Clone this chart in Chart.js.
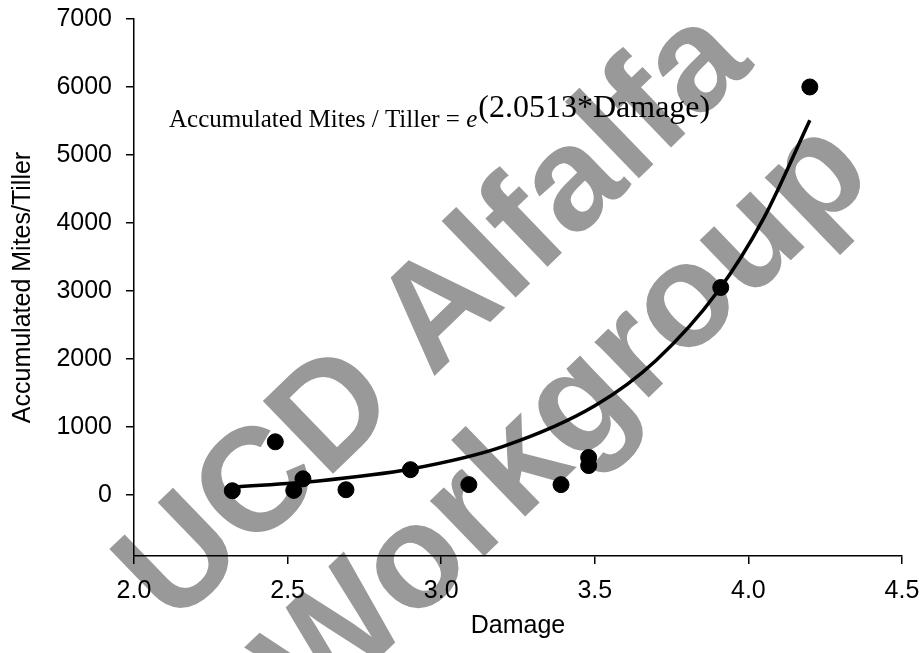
<!DOCTYPE html>
<html>
<head>
<meta charset="utf-8">
<title>Accumulated Mites / Tiller vs Damage</title>
<script src="https://cdn.jsdelivr.net/npm/chart.js@4.4.1/dist/chart.umd.min.js"></script>
<style>
  html, body { margin: 0; padding: 0; background: #fff; }
  #wrap { width: 921px; height: 653px; }
</style>
</head>
<body>
<div id="wrap"><canvas id="chart"></canvas></div>
<script>
// observed points
const damage = [2.32, 2.46, 2.52, 2.55, 2.69, 2.90, 3.09, 3.39, 3.48, 3.48, 3.91, 4.20];
const mites  = [60, 780, 65, 235, 75, 370, 150, 150, 550, 430, 3050, 6000];

// exponential trend line
const trendDamage = [2.32, 2.6, 2.9, 3.2, 3.5, 3.7, 3.9, 4.05, 4.2];
const trendMites  = [115, 205, 380, 710, 1310, 1980, 2990, 4070, 5510];

const xTicks = [2.0, 2.5, 3.0, 3.5, 4.0, 4.5];
const yTicks = [0, 1000, 2000, 3000, 4000, 5000, 6000, 7000];

const xTitle = 'Damage';
const yTitle = 'Accumulated Mites/Tiller';
const eqLabel = 'Accumulated Mites / Tiller = ';
const eqBase = 'e';
const eqPower = '(2.0513*Damage)';
const watermark = ['UCD Alfalfa', 'Workgroup'];

const sans = '"Liberation Sans", Arial, sans-serif';
const serif = '"Liberation Serif", "Times New Roman", serif';

// big grey text behind everything
const watermarkPlugin = {
  id: 'watermark',
  beforeDraw(chart) {
    const ctx = chart.ctx;
    ctx.save();
    ctx.fillStyle = '#999999';
    ctx.font = 'bold 147px ' + sans;
    ctx.textAlign = 'center';
    ctx.textBaseline = 'middle';
    const spots = [[436, 318], [567, 420]];
    spots.forEach(([x, y], i) => {
      ctx.save();
      ctx.translate(x, y);
      ctx.rotate(-44 * Math.PI / 180);
      ctx.fillText(watermark[i], 0, 0);
      ctx.restore();
    });
    ctx.restore();
  }
};

// trend equation, anchored in data space
const equationPlugin = {
  id: 'equation',
  afterDraw(chart) {
    const ctx = chart.ctx;
    const sx = chart.scales.x, sy = chart.scales.y;
    let x = sx.getPixelForValue(2.114);
    const y = sy.getPixelForValue(5410);
    ctx.save();
    ctx.fillStyle = '#000';
    ctx.textAlign = 'left';
    ctx.textBaseline = 'alphabetic';
    ctx.font = '25px ' + serif;
    ctx.fillText(eqLabel, x, y);
    x += ctx.measureText(eqLabel).width;
    ctx.font = 'italic 25px ' + serif;
    ctx.fillText(eqBase, x, y);
    x += ctx.measureText(eqBase).width + 1;
    ctx.font = '32px ' + serif;
    ctx.fillText(eqPower, x, y - 10);
    ctx.restore();
  }
};

const axisFont = { family: sans, size: 25 };

new Chart(document.getElementById('chart'), {
  type: 'scatter',
  data: {
    datasets: [
      {
        label: 'Trend',
        data: trendDamage.map((d, i) => ({ x: d, y: trendMites[i] })),
        showLine: true,
        borderColor: '#000',
        borderWidth: 3.5,
        pointRadius: 0,
        cubicInterpolationMode: 'monotone',
        fill: false,
        order: 1
      },
      {
        label: 'Observed',
        data: damage.map((d, i) => ({ x: d, y: mites[i] })),
        showLine: false,
        pointRadius: 8,
        pointHoverRadius: 8,
        backgroundColor: '#000',
        borderColor: '#000',
        order: 0
      }
    ]
  },
  options: {
    responsive: true,
    maintainAspectRatio: false,
    animation: false,
    events: [],
    layout: { padding: { top: 19, right: 19, bottom: 0, left: 0 } },
    plugins: {
      legend: { display: false },
      tooltip: { enabled: false }
    },
    scales: {
      x: {
        type: 'linear',
        min: 2,
        max: 4.5,
        afterBuildTicks: s => { s.ticks = xTicks.map(v => ({ value: v })); },
        afterFit: s => { s.height = 97; s.paddingLeft = 0; s.paddingRight = 0; },
        ticks: { color: '#000', font: axisFont, padding: 12, maxRotation: 0, callback: v => Number(v).toFixed(1) },
        grid: { drawOnChartArea: false, drawTicks: true, tickLength: 8, color: '#000', lineWidth: 1.5 },
        border: { display: true, color: '#000', width: 1.5 },
        title: { display: true, text: xTitle, color: '#000', font: axisFont, padding: { top: 0, bottom: 12 } }
      },
      y: {
        type: 'linear',
        min: -900,
        max: 7000,
        afterBuildTicks: s => { s.ticks = yTicks.map(v => ({ value: v })); },
        afterFit: s => { s.width = 134; s.paddingTop = 0; s.paddingBottom = 0; },
        ticks: { color: '#000', font: axisFont, padding: 14, callback: v => String(v) },
        grid: { drawOnChartArea: false, drawTicks: true, tickLength: 8, color: '#000', lineWidth: 1.5 },
        border: { display: true, color: '#000', width: 1.5 },
        title: { display: true, text: yTitle, color: '#000', font: axisFont, padding: { top: 8, bottom: 0 } }
      }
    }
  },
  plugins: [watermarkPlugin, equationPlugin]
});
</script>
</body>
</html>
